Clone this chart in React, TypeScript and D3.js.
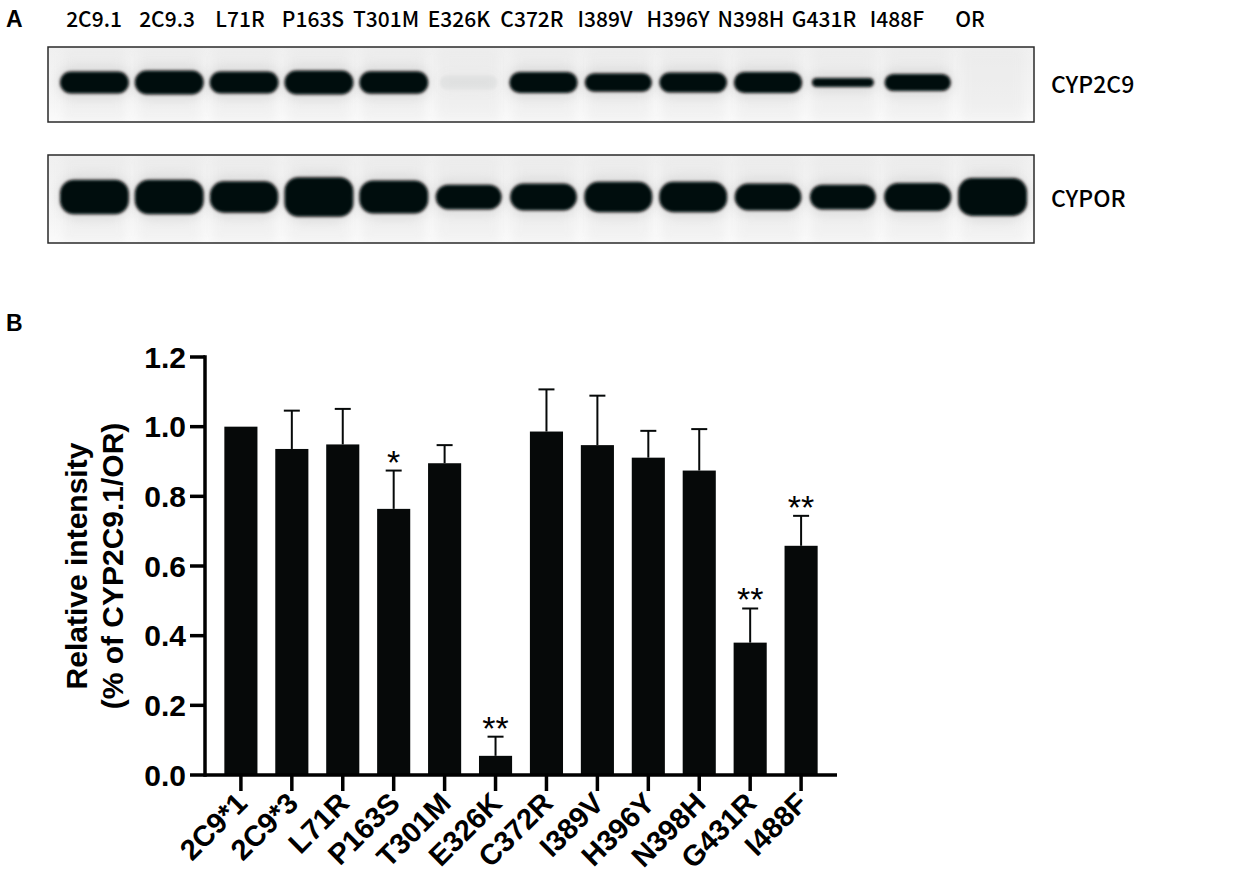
import React from 'react';
import * as d3 from 'd3';

// ---------- Panel A (western blot) ----------
const lanes = ['2C9.1', '2C9.3', 'L71R', 'P163S', 'T301M', 'E326K', 'C372R', 'I389V', 'H396Y', 'N398H', 'G431R', 'I488F', 'OR'];
// relative band signal
const cyp2c9Signal = [1.0, 1.08, 1.0, 1.08, 1.02, 0.06, 0.95, 0.85, 0.9, 0.95, 0.42, 0.78, 0];
const cyporSignal = [1.05, 1.05, 0.95, 1.2, 1.0, 0.75, 0.82, 0.92, 0.92, 0.82, 0.75, 0.85, 1.15];
const blotRows = ['CYP2C9', 'CYPOR'];

// ---------- Panel B (bar chart) ----------
const categories = ['2C9*1', '2C9*3', 'L71R', 'P163S', 'T301M', 'E326K', 'C372R', 'I389V', 'H396Y', 'N398H', 'G431R', 'I488F'];
const means = [1.0, 0.936, 0.949, 0.764, 0.895, 0.055, 0.986, 0.947, 0.911, 0.874, 0.38, 0.658];
const sems = [0, 0.11, 0.102, 0.11, 0.052, 0.055, 0.121, 0.142, 0.077, 0.119, 0.098, 0.086];
const significance = ['', '', '', '*', '', '**', '', '', '', '', '**', '**'];
const yTicks = [0, 0.2, 0.4, 0.6, 0.8, 1.0, 1.2];
const yTitle = ['Relative intensity', '(% of CYP2C9.1/OR)'];

const W = 1244;
const H = 892;
const ARIAL = 'Liberation Sans, Arial, Helvetica, sans-serif';
const CJK = '"Noto Sans CJK SC", "Noto Sans", sans-serif';

export default function App() {
  // blot geometry
  const boxX0 = 48, boxX1 = 1034;
  const rowBoxes = [
    { y0: 47, y1: 122 },
    { y0: 155, y1: 243 },
  ];
  const lane = d3.scaleBand<string>().domain(lanes).range([57, 1030]).padding(0);
  const labelPos = d3.scalePoint<string>().domain(lanes).range([94, 970]);
  const step = lane.bandwidth();
  const hScale = [d3.scaleLinear().domain([0, 1]).range([0, 22]), d3.scaleLinear().domain([0, 1]).range([0, 33])];

  // bar chart geometry
  const x = d3.scaleBand<string>().domain(categories).range([205, 837]).paddingInner(0.35).paddingOuter(0.38);
  const y = d3.scaleLinear().domain([0, 1.2]).range([775, 357]);
  const bw = x.bandwidth();
  const axisW = 3.5;

  const renderRow = (signals: number[], r: number) => {
    const box = rowBoxes[r];
    const cy = (box.y0 + box.y1) / 2 - 2;
    return (
      <g key={'row' + r}>
        <rect x={boxX0} y={box.y0} width={boxX1 - boxX0} height={box.y1 - box.y0} fill={`url(#bg${r})`} />
        <g clipPath={`url(#clip${r})`}>
          {lanes.map((l) => (
            <rect key={'halo' + l} x={(lane(l) as number) + step * 0.08} y={box.y0} width={step * 0.84}
              height={box.y1 - box.y0} fill="#e2e2e2" opacity={0.3} filter="url(#blurBig)" />
          ))}
          {lanes.map((l, i) => {
            const s = signals[i];
            if (s <= 0) return null;
            const faint = s < 0.2;
            const h = faint ? 14 : hScale[r](s);
            const w = step * (0.76 + 0.16 * Math.min(s, 1));
            const cx = (lane(l) as number) + step / 2;
            return (
              <g key={'band' + l}>
                <rect x={cx - w / 2 - 3} y={cy - h / 2 - 6} width={w + 6} height={h + 12} rx={(h + 12) / 2}
                  fill="#888" opacity={faint ? 0.02 : 0.15} filter="url(#blurBig)" />
                <rect x={cx - w / 2} y={cy - h / 2} width={w} height={h} rx={Math.min(h / 2, 14)}
                  fill="#050707" opacity={faint ? 0.04 : 1} filter="url(#blurSmall)" />
              </g>
            );
          })}
        </g>
        <rect x={boxX0} y={box.y0} width={boxX1 - boxX0} height={box.y1 - box.y0} fill="none" stroke="#2a2a2a" strokeWidth={1.5} />
        <text x={boxX1 + 17} y={(box.y0 + box.y1) / 2} dy="0.36em" fontFamily={CJK} fontWeight={500} fontSize={23} fill="#000">
          {blotRows[r]}
        </text>
      </g>
    );
  };

  return (
    <svg width={W} height={H} style={{ position: 'absolute', left: 0, top: 0, background: '#fff' }}>
      <defs>
        <filter id="blurSmall" x="-20%" y="-50%" width="140%" height="200%">
          <feGaussianBlur stdDeviation="1.6" />
        </filter>
        <filter id="blurBig" x="-30%" y="-60%" width="160%" height="220%">
          <feGaussianBlur stdDeviation="5" />
        </filter>
        {rowBoxes.map((b, r) => (
          <linearGradient key={'g' + r} id={'bg' + r} x1="0" y1="0" x2="0" y2="1">
            <stop offset="0%" stopColor="#f0f0f0" />
            <stop offset="70%" stopColor="#f5f5f5" />
            <stop offset="100%" stopColor="#fbfbfb" />
          </linearGradient>
        ))}
        {rowBoxes.map((b, r) => (
          <clipPath key={'c' + r} id={'clip' + r}>
            <rect x={boxX0} y={b.y0} width={boxX1 - boxX0} height={b.y1 - b.y0} />
          </clipPath>
        ))}
      </defs>

      {/* Panel A */}
      <text x={6} y={27} fontFamily={ARIAL} fontWeight="bold" fontSize={23} fill="#000">A</text>
      {lanes.map((l) => (
        <text key={'lab' + l} x={labelPos(l)} y={27} textAnchor="middle" fontFamily={CJK}
          fontWeight={500} fontSize={21} fill="#000">
          {l}
        </text>
      ))}
      {renderRow(cyp2c9Signal, 0)}
      {renderRow(cyporSignal, 1)}

      {/* Panel B */}
      <text x={6} y={331} fontFamily={ARIAL} fontWeight="bold" fontSize={23} fill="#000">B</text>

      {/* bars */}
      {categories.map((c, i) => (
        <rect key={'bar' + c} x={x(c)} y={y(means[i])} width={bw} height={y(0) - y(means[i])} fill="#060909" />
      ))}
      {/* error bars */}
      {categories.map((c, i) => {
        if (sems[i] <= 0) return null;
        const cx = (x(c) as number) + bw / 2;
        const top = y(means[i] + sems[i]);
        return (
          <g key={'err' + c} stroke="#060909" strokeWidth={2}>
            <line x1={cx} x2={cx} y1={y(means[i])} y2={top} />
            <line x1={cx - 8} x2={cx + 8} y1={top} y2={top} />
          </g>
        );
      })}
      {/* significance */}
      {categories.map((c, i) => {
        if (!significance[i]) return null;
        const cx = (x(c) as number) + bw / 2;
        const top = y(means[i] + sems[i]);
        return (
          <text key={'sig' + c} x={cx} y={top + 3} textAnchor="middle" fontFamily={ARIAL} fontSize={34} fill="#000">
            {significance[i]}
          </text>
        );
      })}

      {/* axes */}
      <line x1={205} x2={205} y1={y(1.2) - axisW / 2} y2={y(0) + axisW / 2} stroke="#000" strokeWidth={axisW} />
      <line x1={205} x2={837} y1={y(0)} y2={y(0)} stroke="#000" strokeWidth={axisW} />
      {yTicks.map((t) => (
        <g key={'yt' + t}>
          <line x1={190} x2={205} y1={y(t)} y2={y(t)} stroke="#000" strokeWidth={axisW} />
          <text x={186} y={y(t)} dy="0.36em" textAnchor="end" fontFamily={ARIAL} fontWeight="bold" fontSize={30} fill="#000">
            {d3.format('.1f')(t)}
          </text>
        </g>
      ))}
      {categories.map((c) => {
        const cx = (x(c) as number) + bw / 2;
        return (
          <g key={'xt' + c}>
            <line x1={cx} x2={cx} y1={y(0)} y2={y(0) + 16} stroke="#000" strokeWidth={axisW} />
            <text transform={`translate(${cx + 8},${y(0) + 30}) rotate(-45)`} textAnchor="end" fontFamily={ARIAL}
              fontWeight="bold" fontSize={29} fill="#000">
              {c}
            </text>
          </g>
        );
      })}

      {/* y title */}
      {yTitle.map((t, i) => (
        <text key={'yti' + i} transform={`translate(${87 + i * 36},${(y(0) + y(1.2)) / 2}) rotate(-90)`} textAnchor="middle"
          fontFamily={ARIAL} fontWeight="bold" fontSize={30} fill="#000">
          {t}
        </text>
      ))}
    </svg>
  );
}
